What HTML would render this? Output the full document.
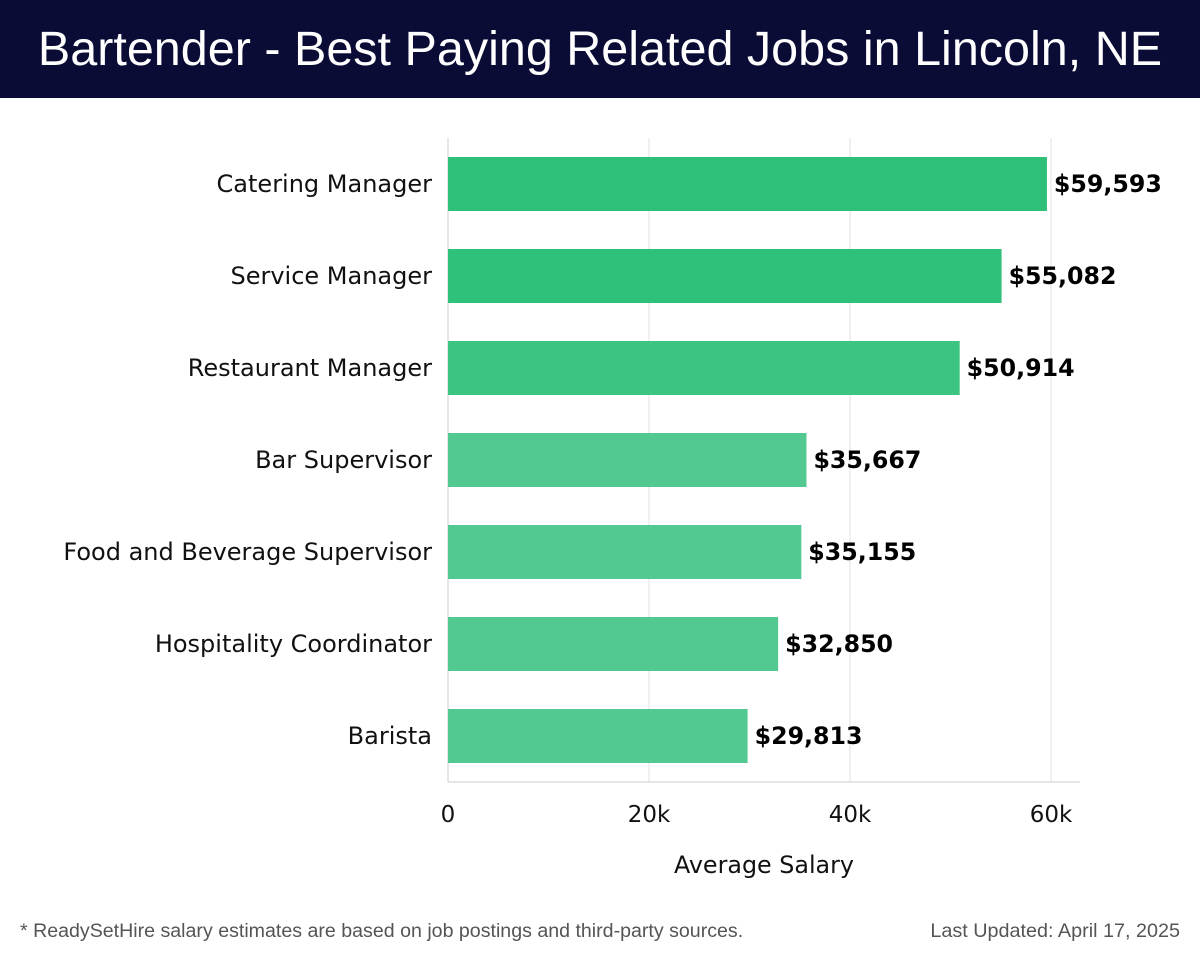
<!DOCTYPE html>
<html><head><meta charset="utf-8"><style>
body{margin:0;width:1200px;height:958px;background:#fff;font-family:"DejaVu Sans","Liberation Sans",sans-serif;overflow:hidden}
#hdr{position:absolute;left:0;top:0;width:1200px;height:98px;background:#0b0c35;color:#fff;font-size:48.5px;text-align:center;line-height:98px;font-family:"Liberation Sans",sans-serif}
</style></head><body>
<div id="hdr">Bartender - Best Paying Related Jobs in Lincoln, NE</div>
<svg id="chart" width="1200" height="958" style="position:absolute;left:0;top:0"></svg>
<script>
const categories=["Catering Manager","Service Manager","Restaurant Manager","Bar Supervisor","Food and Beverage Supervisor","Hospitality Coordinator","Barista"];
const values=[59593,55082,50914,35667,35155,32850,29813];
const valueLabels=["$59,593","$55,082","$50,914","$35,667","$35,155","$32,850","$29,813"];
const colors=["#2ebf78","#2fc07a","#3bc482","#52c990","#52c990","#52c990","#52c990"];
const ticks=[0,20000,40000,60000];
const tickLabels=["0","20k","40k","60k"];
const svg=document.getElementById('chart');
const NS='http://www.w3.org/2000/svg';
const x=v=>448+v*(603/60000);
const y=i=>184+i*92;
function mk(t,a){const e=document.createElementNS(NS,t);for(const k in a)e.setAttribute(k,a[k]);svg.appendChild(e);return e;}
ticks.forEach((t,i)=>{
  const g=mk('line',{x1:x(t),x2:x(t),y1:138,y2:782,stroke:i==0?'#ccc':'#e0e0e0','stroke-width':1});
  
  
  const l=mk('text',{x:x(t),y:822,'text-anchor':'middle','font-size':23,fill:'#111'});
  l.textContent=tickLabels[i];
  
  
});
const ax=mk('line',{x1:448,x2:1080,y1:782,y2:782,stroke:'#ccc','stroke-width':1});


categories.forEach((c,i)=>{
  const r=mk('rect',{x:x(0),y:y(i)-27,width:x(values[i])-x(0),height:54,fill:colors[i]});
  
  
  const cl=mk('text',{x:432,y:y(i)+8,'text-anchor':'end','font-size':24,fill:'#111'});
  cl.textContent=c;
  
  
  const vl=mk('text',{x:x(values[i])+7,y:y(i)+8,'font-size':23.7,'font-weight':'bold',fill:'#000'});
  vl.textContent=valueLabels[i];
  
  
});
const at=mk('text',{x:764,y:873,'text-anchor':'middle','font-size':23.8,fill:'#111'});
at.textContent='Average Salary';


const f1=mk('text',{x:20,y:937,'font-size':19.6,fill:'#555','font-family':'Liberation Sans, sans-serif'});
f1.textContent='* ReadySetHire salary estimates are based on job postings and third-party sources.';


const f2=mk('text',{x:1180,y:937,'text-anchor':'end','font-size':19.8,fill:'#555','font-family':'Liberation Sans, sans-serif'});
f2.textContent='Last Updated: April 17, 2025';


</script>
</body></html>
